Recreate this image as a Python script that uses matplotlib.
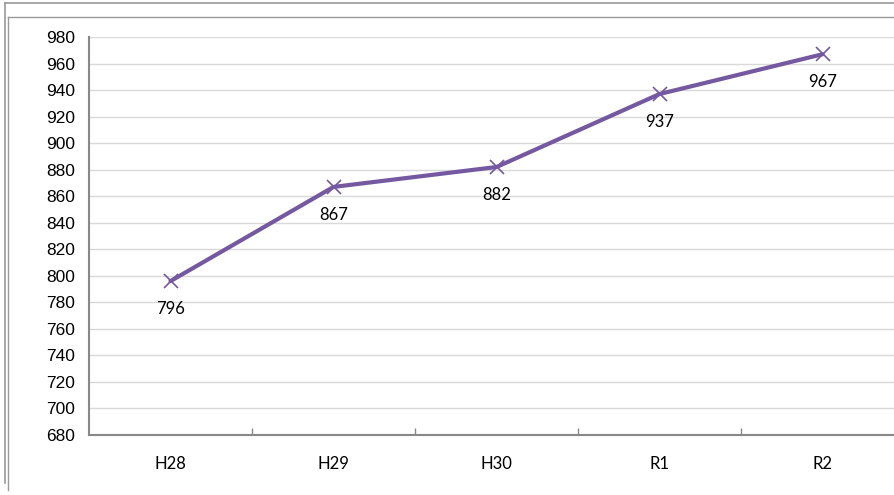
import matplotlib
matplotlib.use("Agg")
import matplotlib.pyplot as plt
from matplotlib.lines import Line2D

categories = ["H28", "H29", "H30", "R1", "R2"]
values = [796, 867, 882, 937, 967]
yticks = list(range(680, 981, 20))

fig = plt.figure(figsize=(8.95, 4.95), dpi=100)
ax = fig.add_axes([89/895, 1-435/495, (904-89)/895, (435-37)/495])

x = list(range(len(categories)))
ax.plot(x, values, color="#7459A0", lw=3.0, marker="x", ms=10, mew=1.2,
        solid_capstyle="round", zorder=3)
for xi, v in zip(x, values):
    ax.annotate(str(v), (xi, v), xytext=(0, -20), textcoords="offset points",
                ha="center", va="center", fontsize=12, family="Lato", color="black")

ax.set_xlim(-0.5, len(categories) - 0.5)
ax.set_ylim(680, 980)
ax.set_yticks(yticks)
ax.set_yticklabels([str(t) for t in yticks], family="Liberation Sans", fontsize=12.5)
ax.set_xticks(x)
ax.set_xticklabels(categories, family="Lato", fontsize=12)
ax.tick_params(axis="x", length=0, pad=15)
ax.tick_params(axis="y", length=0, pad=10)
ax.set_xticks([i + 0.5 for i in range(len(categories) - 1)], minor=True)
ax.tick_params(axis="x", which="minor", direction="in", length=5, color="#888888", width=1)
ax.yaxis.grid(True, color="#D9D9D9", lw=1)
ax.set_axisbelow(True)
for s in ["top", "right"]:
    ax.spines[s].set_visible(False)
for s in ["left", "bottom"]:
    ax.spines[s].set_color("#888888")
    ax.spines[s].set_linewidth(1.5)

# outer frame lines
fig.add_artist(Line2D([5/895, 1], [1-3/495, 1-3/495], color="#999999", lw=1.2))
fig.add_artist(Line2D([5/895, 5/895], [1-3/495, 1-483/495], color="#999999", lw=1.2))
fig.add_artist(Line2D([8/895, 1], [1-17/495, 1-17/495], color="#999999", lw=1))
fig.add_artist(Line2D([8/895, 8/895], [1-17/495, 1-490/495], color="#999999", lw=1))

fig.savefig("out.png", dpi=100)
